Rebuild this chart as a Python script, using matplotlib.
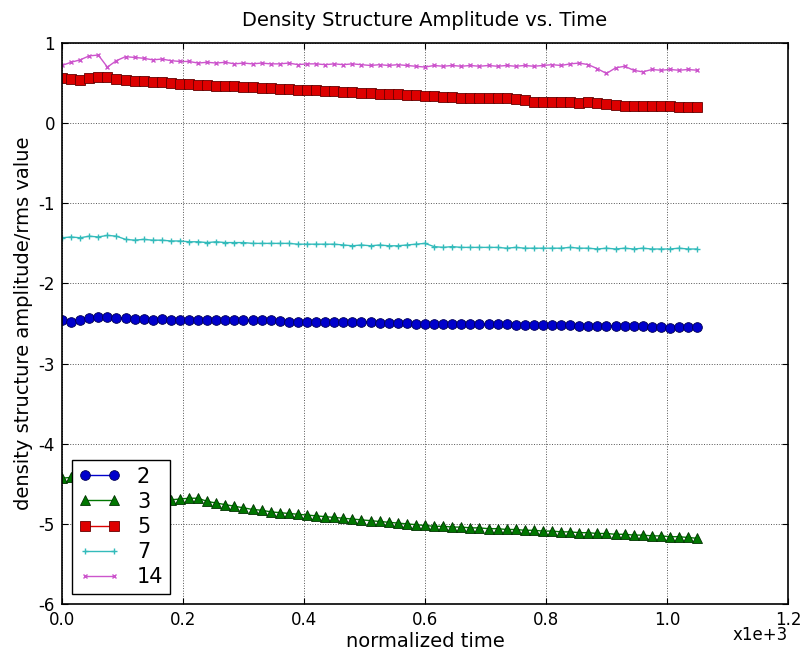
import matplotlib
matplotlib.use('Agg')
import matplotlib.pyplot as plt

plt.rcParams['axes.unicode_minus'] = False
plt.rcParams['font.family'] = 'DejaVu Sans'

# normalized time (x1e+3)
time = [0, 15, 30, 45, 60, 75, 90, 105, 120, 135,
        150, 165, 180, 195, 210, 225, 240, 255, 270, 285,
        300, 315, 330, 345, 360, 375, 390, 405, 420, 435,
        450, 465, 480, 495, 510, 525, 540, 555, 570, 585,
        600, 615, 630, 645, 660, 675, 690, 705, 720, 735,
        750, 765, 780, 795, 810, 825, 840, 855, 870, 885,
        900, 915, 930, 945, 960, 975, 990, 1005, 1020, 1035, 1050]

amp_2 = [-2.46, -2.48, -2.45, -2.43, -2.42, -2.42, -2.43, -2.43, -2.44, -2.44,
         -2.45, -2.44, -2.45, -2.45, -2.45, -2.45, -2.46, -2.45, -2.46, -2.46,
         -2.46, -2.46, -2.46, -2.46, -2.47, -2.48, -2.48, -2.48, -2.48, -2.48,
         -2.48, -2.48, -2.48, -2.48, -2.48, -2.49, -2.49, -2.49, -2.49, -2.50,
         -2.50, -2.50, -2.50, -2.50, -2.51, -2.51, -2.51, -2.51, -2.51, -2.51,
         -2.52, -2.52, -2.52, -2.52, -2.52, -2.52, -2.52, -2.53, -2.53, -2.53,
         -2.53, -2.53, -2.53, -2.53, -2.53, -2.54, -2.54, -2.55, -2.54, -2.54, -2.54]

amp_3 = [-4.43, -4.42, -4.45, -4.48, -4.52, -4.55, -4.58, -4.60, -4.63, -4.65,
         -4.67, -4.69, -4.70, -4.69, -4.68, -4.68, -4.72, -4.74, -4.76, -4.78,
         -4.80, -4.82, -4.83, -4.85, -4.86, -4.87, -4.88, -4.89, -4.90, -4.91,
         -4.92, -4.93, -4.94, -4.95, -4.96, -4.97, -4.98, -4.99, -5.00, -5.01,
         -5.02, -5.03, -5.03, -5.04, -5.04, -5.05, -5.05, -5.06, -5.06, -5.07,
         -5.07, -5.08, -5.08, -5.09, -5.09, -5.10, -5.10, -5.11, -5.11, -5.12,
         -5.12, -5.13, -5.13, -5.14, -5.14, -5.15, -5.15, -5.16, -5.16, -5.17, -5.18]

amp_5 = [0.56, 0.55, 0.54, 0.56, 0.58, 0.57, 0.55, 0.54, 0.53, 0.52,
         0.51, 0.51, 0.50, 0.49, 0.49, 0.48, 0.48, 0.47, 0.46, 0.46,
         0.45, 0.45, 0.44, 0.44, 0.43, 0.43, 0.42, 0.41, 0.41, 0.40,
         0.40, 0.39, 0.39, 0.38, 0.38, 0.37, 0.36, 0.36, 0.35, 0.35,
         0.34, 0.34, 0.33, 0.33, 0.32, 0.32, 0.32, 0.31, 0.31, 0.31,
         0.30, 0.29, 0.27, 0.27, 0.26, 0.26, 0.27, 0.25, 0.26, 0.25,
         0.24, 0.23, 0.22, 0.22, 0.22, 0.21, 0.21, 0.21, 0.20, 0.20, 0.20]

amp_7 = [-1.43, -1.42, -1.43, -1.41, -1.42, -1.40, -1.41, -1.45, -1.46, -1.45,
         -1.46, -1.46, -1.47, -1.47, -1.48, -1.48, -1.49, -1.48, -1.49, -1.49,
         -1.49, -1.50, -1.50, -1.50, -1.50, -1.50, -1.51, -1.51, -1.51, -1.51,
         -1.51, -1.52, -1.53, -1.52, -1.53, -1.52, -1.53, -1.53, -1.52, -1.51,
         -1.50, -1.54, -1.55, -1.54, -1.55, -1.55, -1.55, -1.55, -1.55, -1.56,
         -1.55, -1.56, -1.56, -1.56, -1.56, -1.56, -1.55, -1.56, -1.56, -1.57,
         -1.56, -1.57, -1.56, -1.57, -1.56, -1.57, -1.57, -1.57, -1.56, -1.57, -1.57]

amp_14 = [0.72, 0.76, 0.79, 0.84, 0.85, 0.70, 0.78, 0.83, 0.82, 0.81,
          0.79, 0.80, 0.78, 0.77, 0.77, 0.75, 0.76, 0.75, 0.76, 0.74,
          0.75, 0.74, 0.75, 0.74, 0.74, 0.75, 0.73, 0.74, 0.74, 0.73,
          0.74, 0.73, 0.74, 0.73, 0.72, 0.73, 0.72, 0.73, 0.72, 0.71,
          0.70, 0.72, 0.71, 0.72, 0.71, 0.72, 0.71, 0.72, 0.71, 0.72,
          0.71, 0.72, 0.71, 0.72, 0.73, 0.72, 0.74, 0.75, 0.73, 0.68,
          0.62, 0.69, 0.71, 0.66, 0.64, 0.67, 0.66, 0.67, 0.66, 0.67, 0.66]

t = [v / 1000.0 for v in time]

fig = plt.figure(figsize=(8.02, 6.52), dpi=100)
ax = fig.add_axes([0.0773, 0.0736, 0.9052, 0.8604])

ax.plot(t, amp_2, color='#0000cc', marker='o', markersize=7, mec='#000055', mew=0.6, lw=1, label='2')
ax.plot(t, amp_3, color='#007700', marker='^', markersize=7, mec='#003300', mew=0.6, lw=1, label='3')
ax.plot(t, amp_5, color='#dd0000', marker='s', markersize=7, mec='#660000', mew=0.6, lw=1, label='5')
ax.plot(t, amp_7, color='#33bbbb', marker='+', markersize=4, lw=1, label='7')
ax.plot(t, amp_14, color='#cc55cc', marker='x', markersize=3, lw=1, label='14')

ax.set_xlim(0, 1.2)
ax.set_ylim(-6, 1)
ax.set_xticks([0.0, 0.2, 0.4, 0.6, 0.8, 1.0, 1.2])
ax.set_xticklabels(['0.0', '0.2', '0.4', '0.6', '0.8', '1.0', '1.2'])
ax.set_yticks([1, 0, -1, -2, -3, -4, -5, -6])
ax.grid(True, color='#555555', linestyle=':', linewidth=0.7)
ax.tick_params(direction='in', top=True, right=True, length=4, labelsize=12, pad=5)
for s in ax.spines.values():
    s.set_linewidth(1.2)

ax.set_title('Density Structure Amplitude vs. Time', fontsize=14, pad=12)
ax.set_xlabel('normalized time', fontsize=14, labelpad=2)
ax.set_ylabel('density structure amplitude/rms value', fontsize=14)
ax.text(1.0, -0.04, 'x1e+3', transform=ax.transAxes, ha='right', va='top', fontsize=12)

leg = ax.legend(loc='lower left', fontsize=15, numpoints=2, fancybox=False,
                framealpha=1, edgecolor='k', labelspacing=0.25, borderaxespad=0.5,
                handlelength=2, borderpad=0.3)
leg.get_frame().set_linewidth(1.0)

fig.savefig('out.png', dpi=100, facecolor='white')
